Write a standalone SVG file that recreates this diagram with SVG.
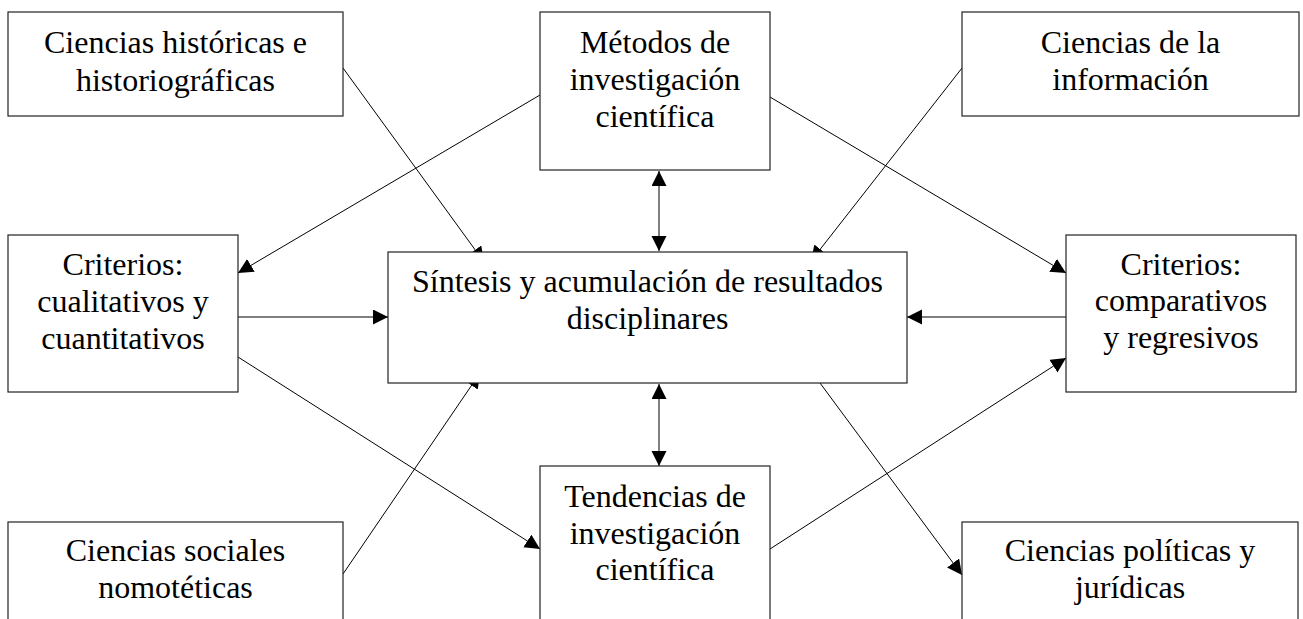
<svg xmlns="http://www.w3.org/2000/svg" width="1303" height="619" viewBox="0 0 1303 619">
<style>
.box{fill:#fff;stroke:#222;stroke-width:1.2}
.t{font-size:32px;fill:#000;text-anchor:middle}
.c{stroke:#000;stroke-width:1;fill:none;marker-end:url(#ah)}
.bi{marker-start:url(#ah)}
</style>
<defs>
<marker id="ah" markerUnits="userSpaceOnUse" markerWidth="16" markerHeight="16" refX="15" refY="7.5" orient="auto-start-reverse" viewBox="0 0 16 16">
<path d="M0,0 L15,7.5 L0,15 z" fill="#000"/>
</marker>
</defs>
<rect width="1303" height="619" fill="#fff"/>
<g id="connectors">
<line class="c bi" x1="659" y1="171" x2="659" y2="251"/>
<line class="c bi" x1="659" y1="384" x2="659" y2="466"/>
<line class="c" x1="238" y1="317" x2="388" y2="317"/>
<line class="c" x1="1066" y1="317" x2="907" y2="317"/>
<line class="c" x1="540" y1="95" x2="238" y2="273"/>
<line class="c" x1="770" y1="97" x2="1066" y2="273"/>
<line class="c" x1="343" y1="68" x2="484" y2="262"/>
<line class="c" x1="962" y1="68" x2="811" y2="261"/>
<line class="c" x1="343" y1="574" x2="480" y2="373"/>
<line class="c" x1="238" y1="357" x2="540" y2="549"/>
<line class="c" x1="770" y1="549" x2="1066" y2="358"/>
<line class="c" x1="820" y1="383" x2="962" y2="575"/>
</g>
<g id="nodes" font-family="Liberation Serif, serif">
<g id="n-historicas">
<rect class="box" x="8" y="12" width="335" height="104"/>
<text class="t" x="175.5" y="53">Ciencias históricas e</text>
<text class="t" x="175.5" y="90.5">historiográficas</text>
</g>
<g id="n-metodos">
<rect class="box" x="540" y="12" width="230" height="158"/>
<text class="t" x="655" y="52.5">Métodos de</text>
<text class="t" x="655" y="89.5">investigación</text>
<text class="t" x="655" y="126.5">científica</text>
</g>
<g id="n-informacion">
<rect class="box" x="962" y="12" width="337" height="104"/>
<text class="t" x="1130.5" y="52.5">Ciencias de la</text>
<text class="t" x="1130.5" y="90">información</text>
</g>
<g id="n-cualitativos">
<rect class="box" x="8" y="235" width="230" height="157"/>
<text class="t" x="123" y="275">Criterios:</text>
<text class="t" x="123" y="312">cualitativos y</text>
<text class="t" x="123" y="348.5">cuantitativos</text>
</g>
<g id="n-sintesis">
<rect class="box" x="388" y="252" width="519" height="131"/>
<text class="t" x="647.5" y="292">Síntesis y acumulación de resultados</text>
<text class="t" x="647.5" y="329">disciplinares</text>
</g>
<g id="n-comparativos">
<rect class="box" x="1066" y="235" width="230" height="157"/>
<text class="t" x="1181" y="274.5">Criterios:</text>
<text class="t" x="1181" y="311">comparativos</text>
<text class="t" x="1181" y="347.5">y regresivos</text>
</g>
<g id="n-sociales">
<rect class="box" x="8" y="522" width="335" height="110"/>
<text class="t" x="175.5" y="561">Ciencias sociales</text>
<text class="t" x="175.5" y="598">nomotéticas</text>
</g>
<g id="n-tendencias">
<rect class="box" x="540" y="466" width="230" height="166"/>
<text class="t" x="655" y="507">Tendencias de</text>
<text class="t" x="655" y="543.5">investigación</text>
<text class="t" x="655" y="580">científica</text>
</g>
<g id="n-politicas">
<rect class="box" x="962" y="522" width="336" height="110"/>
<text class="t" x="1130" y="561">Ciencias políticas y</text>
<text class="t" x="1130" y="598">jurídicas</text>
</g>
</g>
</svg>
